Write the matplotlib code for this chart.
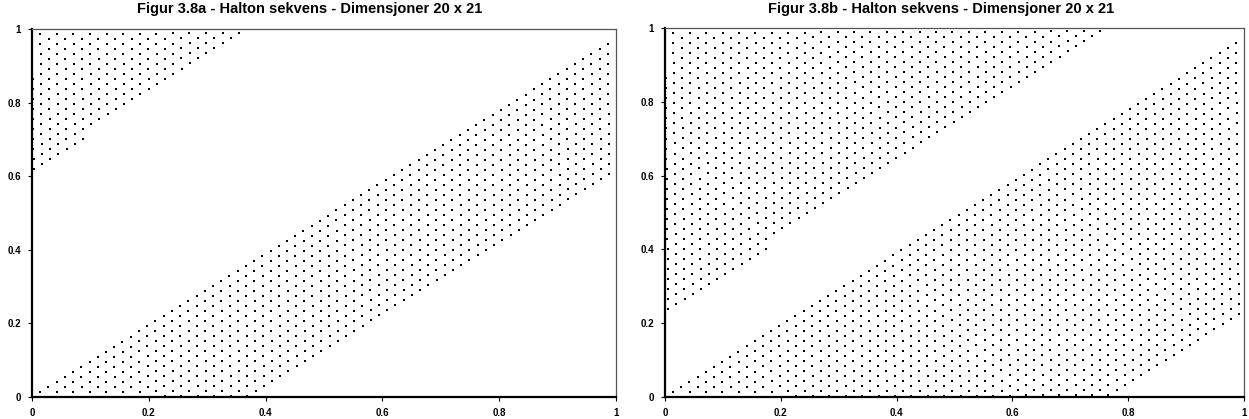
import numpy as np
import matplotlib
matplotlib.use("Agg")
import matplotlib.pyplot as plt

# Data definition: Halton sequence, dimensions 20 and 21 (prime bases 71 and 73)
titles = ["Figur 3.8a - Halton sekvens - Dimensjoner 20 x 21",
          "Figur 3.8b - Halton sekvens - Dimensjoner 20 x 21"]
base_x = 71
base_y = 73
n_points = [1000, 2000]
tick_values = [0, 0.2, 0.4, 0.6, 0.8, 1]
tick_labels = ["0", "0.2", "0.4", "0.6", "0.8", "1"]


def radical_inverse(n, b):
    r = 0.0
    f = 1.0 / b
    while n > 0:
        r += (n % b) * f
        n //= b
        f /= b
    return r


plt.rcParams['font.family'] = ['Liberation Sans', 'DejaVu Sans']
fig = plt.figure(figsize=(12.49, 4.19), dpi=100)
W, H = 1249, 419
boxes = [(32, 29, 616, 397), (665, 28, 1244, 397)]
title_x = [310, 941]

for i in range(2):
    l, t, r, b = boxes[i]
    ax = fig.add_axes([l / W, 1 - b / H, (r - l) / W, (b - t) / H])
    idx = range(1, n_points[i] + 1)
    xs = [radical_inverse(n, base_x) for n in idx]
    ys = [radical_inverse(n, base_y) for n in idx]
    ax.plot(xs, ys, linestyle='none', marker='s', markersize=1.8,
            color='black', markeredgewidth=0, clip_on=False)
    ax.set_xlim(0, 1)
    ax.set_ylim(0, 1)
    ax.set_xticks(tick_values)
    ax.set_xticklabels(tick_labels)
    ax.set_yticks(tick_values)
    ax.set_yticklabels(tick_labels)
    for lab in ax.get_xticklabels() + ax.get_yticklabels():
        lab.set_fontweight('bold')
        lab.set_fontsize(7)
    ax.tick_params(axis='x', direction='out', length=3, width=0.8, pad=5)
    ax.tick_params(axis='y', direction='out', length=3, width=0.8, pad=5)
    ax.spines['left'].set_linewidth(1.6)
    ax.spines['bottom'].set_linewidth(1.6)
    ax.spines['left'].set_color('black')
    ax.spines['bottom'].set_color('black')
    ax.spines['top'].set_color('#555555')
    ax.spines['right'].set_color('#555555')
    ax.spines['top'].set_linewidth(0.9)
    ax.spines['right'].set_linewidth(0.9)
    fig.text(title_x[i] / W, 1 - 9 / H, titles[i], ha='center', va='center',
             fontsize=10.5, fontweight='bold')

fig.savefig("out.png", dpi=100)
